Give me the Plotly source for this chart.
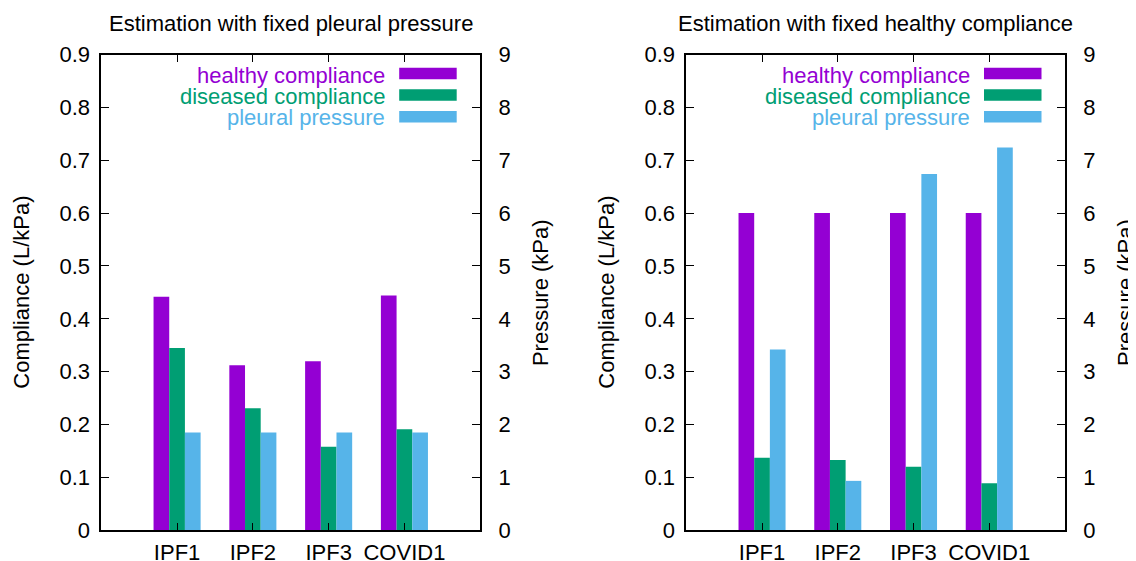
import plotly.graph_objects as go

categories = ["IPF1", "IPF2", "IPF3", "COVID1"]

# Panel 1: Estimation with fixed pleural pressure
p1_healthy = [0.442, 0.312, 0.320, 0.444]
p1_diseased = [0.345, 0.231, 0.158, 0.191]
p1_pressure = [1.85, 1.85, 1.85, 1.85]

# Panel 2: Estimation with fixed healthy compliance
p2_healthy = [0.600, 0.600, 0.600, 0.600]
p2_diseased = [0.137, 0.133, 0.120, 0.089]
p2_pressure = [3.42, 0.935, 6.74, 7.24]

titles = ["Estimation with fixed pleural pressure", "Estimation with fixed healthy compliance"]
series_names = ["healthy compliance", "diseased compliance", "pleural pressure"]
colors = ["#9400D3", "#009E73", "#56B4E9"]

comp_ticks = [0, 0.1, 0.2, 0.3, 0.4, 0.5, 0.6, 0.7, 0.8, 0.9]
comp_labels = ["0", "0.1", "0.2", "0.3", "0.4", "0.5", "0.6", "0.7", "0.8", "0.9"]
press_ticks = [0, 1, 2, 3, 4, 5, 6, 7, 8, 9]

FONT = "Liberation Sans, Arial, Helvetica, sans-serif"
FS = 22
W, H = 1136, 561
PAGE_OFF = 8  # default body margin of the html page

bw = 0.207
offsets = [-1.5 * bw, -0.5 * bw, 0.5 * bw]

fig = go.Figure()

panels = [
    (p1_healthy, p1_diseased, p1_pressure, "x", "y", "y2"),
    (p2_healthy, p2_diseased, p2_pressure, "x2", "y3", "y4"),
]
for healthy, diseased, pressure, xa, ya, ya2 in panels:
    for vals, name, col, off, yax in [
        (healthy, series_names[0], colors[0], offsets[0], ya),
        (diseased, series_names[1], colors[1], offsets[1], ya),
        (pressure, series_names[2], colors[2], offsets[2], ya2),
    ]:
        fig.add_trace(go.Bar(
            x=categories, y=vals, name=name, xaxis=xa, yaxis=yax,
            marker=dict(color=col, line=dict(width=0)),
            width=bw, offset=off, showlegend=False,
        ))

def px_x(p):
    return (p - PAGE_OFF) / W

def px_y(p):
    return 1 - (p - PAGE_OFF) / H

top_px, bot_px = 54.5, 530.3
frames = [(101.3, 480.2), (686.3, 1065.0)]

common_x = dict(
    type="category", range=[-1, 4], showline=True, linewidth=1.6, linecolor="black",
    mirror="ticks", ticks="inside", ticklen=8, tickwidth=1, tickcolor="black",
    showgrid=False, zeroline=False, automargin=False, ticklabelstandoff=1,
    tickfont=dict(family=FONT, size=FS, color="black"),
)
common_y = dict(
    range=[0, 0.9], tickvals=comp_ticks, ticktext=comp_labels,
    showline=True, linewidth=1.6, linecolor="black", mirror=True,
    ticks="inside", ticklen=8, tickwidth=1, tickcolor="black",
    showgrid=False, zeroline=False, automargin=False, ticklabelstandoff=5,
    tickfont=dict(family=FONT, size=FS, color="black"),
    domain=[px_y(bot_px), px_y(top_px)],
)
common_y2 = dict(
    range=[0, 9], tickvals=press_ticks, side="right",
    showline=True, linewidth=1.6, linecolor="black",
    ticks="inside", ticklen=8, tickwidth=1, tickcolor="black",
    showgrid=False, zeroline=False, automargin=False, ticklabelstandoff=12,
    tickfont=dict(family=FONT, size=FS, color="black"),
)

fig.update_layout(
    width=W, height=H,
    margin=dict(l=0, r=0, t=0, b=0, autoexpand=False),
    paper_bgcolor="white", plot_bgcolor="white",
    showlegend=False,
    barmode="overlay",
    xaxis=dict(common_x, domain=[px_x(frames[0][0]), px_x(frames[0][1])], anchor="y"),
    xaxis2=dict(common_x, domain=[px_x(frames[1][0]), px_x(frames[1][1])], anchor="y3"),
    yaxis=dict(common_y, anchor="x"),
    yaxis2=dict(common_y2, overlaying="y", anchor="x"),
    yaxis3=dict(common_y, anchor="x2"),
    yaxis4=dict(common_y2, overlaying="y3", anchor="x2"),
)

annotations = []
shapes = []
legend_text_rows = [75.3, 96.3, 117.6]
legend_swatch_rows = [73.5, 95.0, 116.7]
for i, (fl, fr) in enumerate(frames):
    cx = (fl + fr) / 2
    annotations.append(dict(
        text=titles[i], x=px_x(cx), y=px_y(23.3), xref="paper", yref="paper",
        xanchor="center", yanchor="middle", showarrow=False,
        font=dict(family=FONT, size=FS, color="black"),
    ))
    annotations.append(dict(
        text="Compliance (L/kPa)", x=px_x(fl - 80), y=px_y((top_px + bot_px) / 2),
        xref="paper", yref="paper", xanchor="center", yanchor="middle",
        textangle=-90, showarrow=False,
        font=dict(family=FONT, size=FS, color="black"),
    ))
    annotations.append(dict(
        text="Pressure (kPa)", x=px_x(fr + 60.5), y=px_y((top_px + bot_px) / 2),
        xref="paper", yref="paper", xanchor="center", yanchor="middle",
        textangle=-90, showarrow=False,
        font=dict(family=FONT, size=FS, color="black"),
    ))
    text_right = fr - 93.5
    sw_l, sw_r = fr - 81, fr - 23.5
    for name, col, ty, sy in zip(series_names, colors, legend_text_rows, legend_swatch_rows):
        annotations.append(dict(
            text=name, x=px_x(text_right), y=px_y(ty), xref="paper", yref="paper",
            xanchor="right", yanchor="middle", showarrow=False,
            font=dict(family=FONT, size=FS, color=col),
        ))
        shapes.append(dict(
            type="rect", xref="paper", yref="paper",
            x0=px_x(sw_l), x1=px_x(sw_r), y0=px_y(sy + 5.8), y1=px_y(sy - 5.8),
            fillcolor=col, line=dict(width=0),
        ))

fig.update_layout(annotations=annotations, shapes=shapes)

fig.write_html("out.html")
